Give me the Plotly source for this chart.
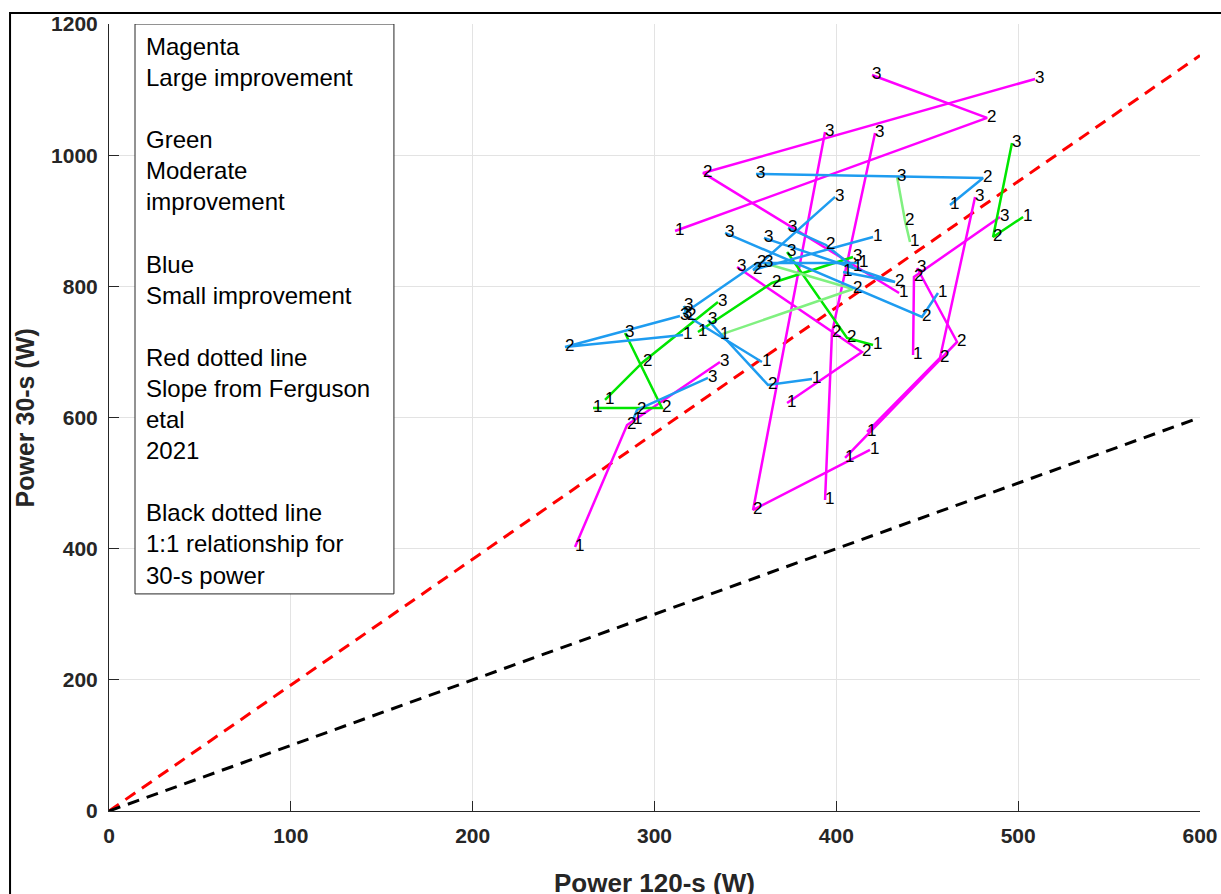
import plotly.graph_objects as go

# Session labels at each point
sessions = ["1", "2", "3"]

# ---- Magenta: large improvement (120-s power, 30-s power for sessions 1,2,3)
magenta_x = [[311.3, 482.9, 419.6], [434.5, 326.7, 509.3], [418.5, 354.2, 393.8],
             [393.8, 397.6, 421.3], [372.9, 414.1, 345.4], [442.2, 442.7, 490.0],
             [404.8, 466.4, 444.4], [416.9, 457.0, 476.3], [256.3, 284.9, 336.0]]
magenta_y = [[884.4, 1056.8, 1122.3], [789.9, 972.9, 1116.2], [550.5, 459.0, 1035.4],
             [474.2, 728.9, 1033.9], [622.2, 699.9, 829.5], [695.4, 814.3, 905.8],
             [538.3, 715.2, 828.0], [577.9, 690.8, 936.3], [402.6, 588.6, 684.7]]

# ---- Green: moderate improvement
green_x = [[502.7, 486.2, 496.6], [420.2, 405.9, 372.9], [323.9, 364.6, 409.2],
           [272.8, 293.7, 334.9], [266.2, 304.1, 283.8]]
green_y = [[905.8, 875.3, 1018.6], [710.6, 721.3, 852.4], [730.4, 805.1, 844.8],
           [626.7, 684.7, 776.2], [614.5, 614.5, 728.9]]
palegreen_x = [[440.5, 437.8, 433.4], [336.0, 409.2, 360.2]]
palegreen_y = [[867.7, 899.7, 966.8], [725.9, 796.0, 835.6]]

# ---- Blue: small improvement
blue_x = [[462.5, 480.7, 355.8], [420.2, 354.2, 399.3], [315.7, 250.8, 314.0],
          [359.1, 317.9, 316.2], [386.6, 362.4, 329.4], [288.2, 290.4, 329.4],
          [455.9, 447.1, 338.8], [403.7, 432.3, 360.2], [409.2, 394.3, 373.4],
          [412.5, 356.4, 315.7]]
blue_y = [[924.1, 965.3, 971.4], [875.3, 825.0, 936.3], [725.9, 707.6, 754.8],
          [684.7, 754.8, 770.1], [658.8, 649.6, 748.7], [596.2, 611.5, 660.3],
          [789.9, 753.3, 881.4], [821.9, 806.7, 873.8], [829.5, 863.1, 889.0],
          [835.6, 835.6, 757.9]]

# Reference lines
ref_x = [0, 600]
ferguson_y = [0, 1152]
identity_y = [0, 600]

legend_lines = ["Magenta", "Large improvement", "", "Green", "Moderate", "improvement", "",
                "Blue", "Small improvement", "", "Red dotted line", "Slope from Ferguson",
                "etal", "2021", "", "Black dotted line", "1:1 relationship for", "30-s power"]

x_ticks = [0, 100, 200, 300, 400, 500, 600]
y_ticks = [0, 200, 400, 600, 800, 1000, 1200]

FONT = "Liberation Sans, Arial, Helvetica"

fig = go.Figure()

fig.add_trace(go.Scatter(x=ref_x, y=ferguson_y, mode="lines",
                         line=dict(color="#ff0000", width=3, dash="12px,8px"), hoverinfo="skip"))
fig.add_trace(go.Scatter(x=ref_x, y=identity_y, mode="lines",
                         line=dict(color="#000000", width=3, dash="12px,8px"), hoverinfo="skip"))

groups = [(magenta_x, magenta_y, "#ff00ff"), (green_x, green_y, "#00e600"),
          (palegreen_x, palegreen_y, "#80f080"), (blue_x, blue_y, "#1e9cf0")]
for gx, gy, col in groups:
    for xs, ys in zip(gx, gy):
        fig.add_trace(go.Scatter(x=xs, y=ys, mode="lines", line=dict(color=col, width=2.5),
                                 hoverinfo="skip"))

# labels on top
for gx, gy, col in groups:
    for xs, ys in zip(gx, gy):
        fig.add_trace(go.Scatter(x=xs, y=ys, mode="text", text=sessions,
                                 textposition="middle right",
                                 textfont=dict(family=FONT, size=17, color="#000000"),
                                 hoverinfo="skip"))

# legend text box
box_x0, box_x1, box_y0, box_y1 = 14.3, 156.7, 331, 1200
fig.add_shape(type="rect", xref="x", yref="y", x0=box_x0, x1=box_x1, y0=box_y0, y1=box_y1,
              line=dict(color="#262626", width=1), fillcolor="white", layer="above")
line_h = 31.1 / 0.6558  # data units per text line
for i, t in enumerate(legend_lines):
    if t:
        fig.add_annotation(x=19.5, y=1166 - i * line_h, xref="x", yref="y", text=t,
                           showarrow=False, xanchor="left", yanchor="middle",
                           font=dict(family=FONT, size=24, color="#000000"))

# outer figure frame
fig.add_shape(type="rect", xref="paper", yref="paper", x0=-0.0907, x1=1.03, y0=-0.2, y1=1.014,
              line=dict(color="#000000", width=2), fillcolor="rgba(0,0,0,0)", layer="above")

# axis titles
fig.add_annotation(x=0.5, y=-0.0915, xref="paper", yref="paper", text="<b>Power 120-s (W)</b>",
                   showarrow=False, xanchor="center", yanchor="middle",
                   font=dict(family=FONT, size=26, color="#262626"))
fig.add_annotation(x=-0.077, y=0.5, xref="paper", yref="paper", text="<b>Power 30-s (W)</b>",
                   showarrow=False, textangle=-90, xanchor="center", yanchor="middle",
                   font=dict(family=FONT, size=25, color="#262626"))

axis_common = dict(showgrid=True, gridcolor="#e3e3e3", gridwidth=1, zeroline=False,
                   showline=True, linecolor="#262626", linewidth=1, ticks="inside", ticklen=10,
                   tickcolor="#262626", automargin=False,
                   tickfont=dict(family=FONT, size=21, color="#262626"))
fig.update_layout(
    width=1221, height=894, autosize=False,
    margin=dict(l=109, r=21, t=24, b=83, autoexpand=False),
    paper_bgcolor="white", plot_bgcolor="white",
    showlegend=False,
    xaxis=dict(range=[0, 600], tickvals=x_ticks, ticktext=[f"<b>{v}</b>" for v in x_ticks],
               ticklabelstandoff=6, **axis_common),
    yaxis=dict(range=[0, 1200], tickvals=y_ticks, ticktext=[f"<b>{v}</b>" for v in y_ticks],
               ticklabelstandoff=6, **axis_common),
)

fig.write_html("out.html", config={"responsive": False, "displayModeBar": False},
               post_script="document.body.style.margin='0px';document.body.style.overflow='hidden';")
